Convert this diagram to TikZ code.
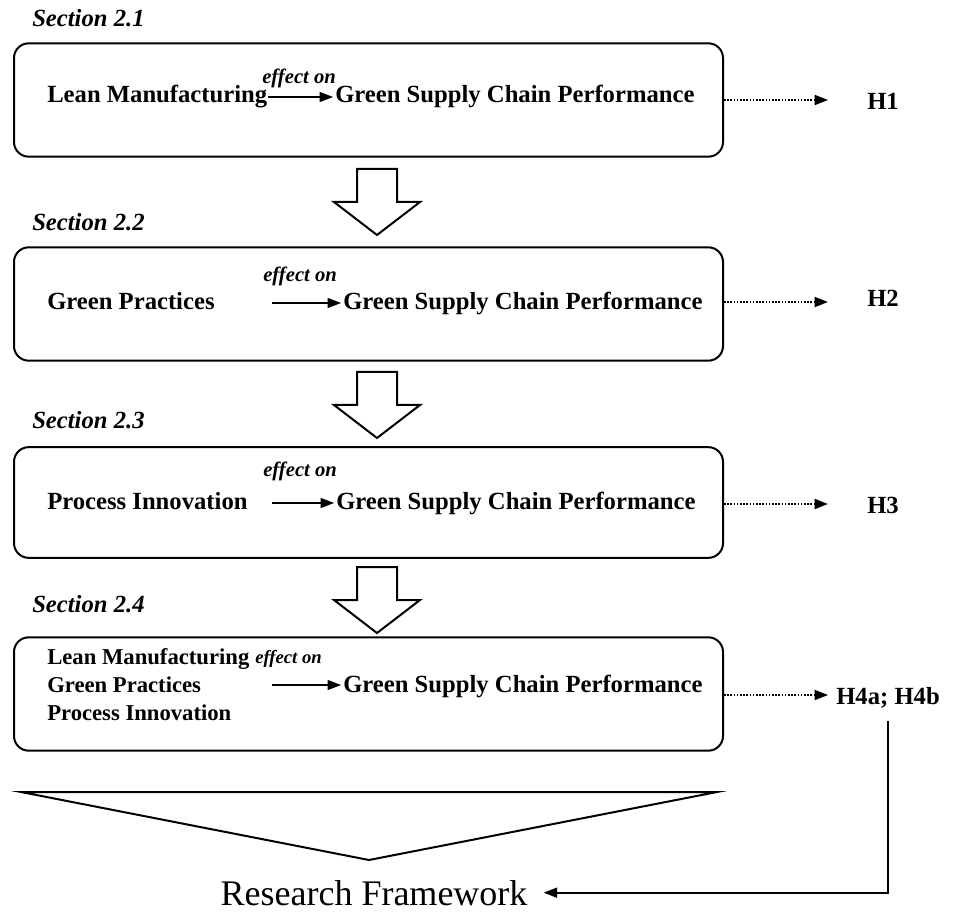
\documentclass[tikz,border=0pt]{standalone}
\usepackage{fontspec}
\setmainfont{Liberation Serif}
\usetikzlibrary{arrows.meta,positioning}

\tikzset{
  secbox/.style={draw, line width=1.5pt, rounded corners=11pt, minimum width=531.75pt, minimum height=85pt, inner sep=0pt},
  seclabel/.style={anchor=base west, inner sep=0pt, font=\fontsize{18.5}{20}\selectfont\bfseries\itshape},
  term/.style={anchor=base west, inner sep=0pt, font=\fontsize{18.5}{20}\selectfont\bfseries},
  smallterm/.style={term, font=\fontsize{17}{19}\selectfont\bfseries},
  effect/.style={anchor=base west, inner sep=0pt, font=\fontsize{15.5}{17}\selectfont\bfseries\itshape},
  effarrow/.style={-{Triangle[length=10pt,width=7.5pt]}, line width=0.9pt},
  hyparrow/.style={-{Triangle[length=10pt,width=7.5pt]}, line width=1.4pt, dash pattern=on 1.2pt off 1.2pt},
  blockarrow/.style={draw, line width=1.5pt, line join=miter, fill=white},
}

\begin{document}
\begin{tikzpicture}[x=0.75pt,y=-0.75pt]
  \useasboundingbox (0,0) rectangle (956,912);

  \node[seclabel] (sec1) at (32,27)  {Section 2.1};
  \node[seclabel] (sec2) at (32,231) {Section 2.2};
  \node[seclabel] (sec3) at (32,429) {Section 2.3};
  \node[seclabel] (sec4) at (32,612) {Section 2.4};

  \node[secbox] (box1) at (368.5,100) {};
  \node[secbox] (box2) at (368.5,304) {};
  \node[secbox, minimum height=83pt] (box3) at (368.5,502.5) {};
  \node[secbox] (box4) at (368.5,694) {};

  \node[term] (lean1) at (47,103) {Lean Manufacturing};
  \node[effect] (eff1) at (262,84) {effect on};
  \node[term] (gscp1) at (335,103) {Green Supply Chain Performance};
  \coordinate (from1) at (268,97);

  \node[term] (green2) at (47,310) {Green Practices};
  \node[effect] (eff2) at (263,282) {effect on};
  \node[term] (gscp2) at (343,310) {Green Supply Chain Performance};
  \coordinate (from2) at (272,303);

  \node[term] (proc3) at (47,509) {Process Innovation};
  \node[effect] (eff3) at (263,476) {effect on};
  \node[term] (gscp3) at (336,509) {Green Supply Chain Performance};
  \coordinate (from3) at (272,503);

  \node[smallterm] (lean4) at (47,664) {Lean Manufacturing};
  \node[effect, font=\fontsize{14}{16}\selectfont\bfseries\itshape] (eff4) at (255,663) {effect on};
  \node[smallterm] (green4) at (47,692) {Green Practices};
  \node[smallterm] (proc4) at (47,720) {Process Innovation};
  \node[term] (gscp4) at (343,692) {Green Supply Chain Performance};
  \coordinate (from4) at (272,685);

  \node[term] (h1) at (867,110) {H1};
  \node[term] (h2) at (867,307) {H2};
  \node[term] (h3) at (867,513) {H3};
  \node[term] (h4) at (836,704) {H4a; H4b};

  \foreach \i in {1,...,4}
    \draw[effarrow] (from\i) -- ([xshift=-1.5pt]from\i -| gscp\i.west);

  \draw[hyparrow] (box1.east |- 0,100) -- (828,100);
  \draw[hyparrow] (box2.east |- 0,302) -- (828,302);
  \draw[hyparrow] (box3.east |- 0,504) -- (828,504);
  \draw[hyparrow] (box4.east |- 0,695) -- ([xshift=-6pt]h4.west |- 0,695);

  \foreach \t in {169,372,567}
    \draw[blockarrow] (357,\t) -- (397,\t) -- (397,\t+33) -- (420,\t+33)
      -- (377,\t+66) -- (334,\t+33) -- (357,\t+33) -- cycle;

  \draw[line width=1.5pt, line join=miter, miter limit=30] (21,792) -- (717,792) -- (369,860) -- cycle;

  \node[anchor=base, inner sep=12pt, font=\fontsize{27}{30}\selectfont] (rf) at (374,905) {Research Framework};
  \draw[-{Triangle[length=10pt,width=7.5pt]}, line width=1.3pt] ([yshift=-10pt]h4.south) |- (rf.east);
\end{tikzpicture}
\end{document}
